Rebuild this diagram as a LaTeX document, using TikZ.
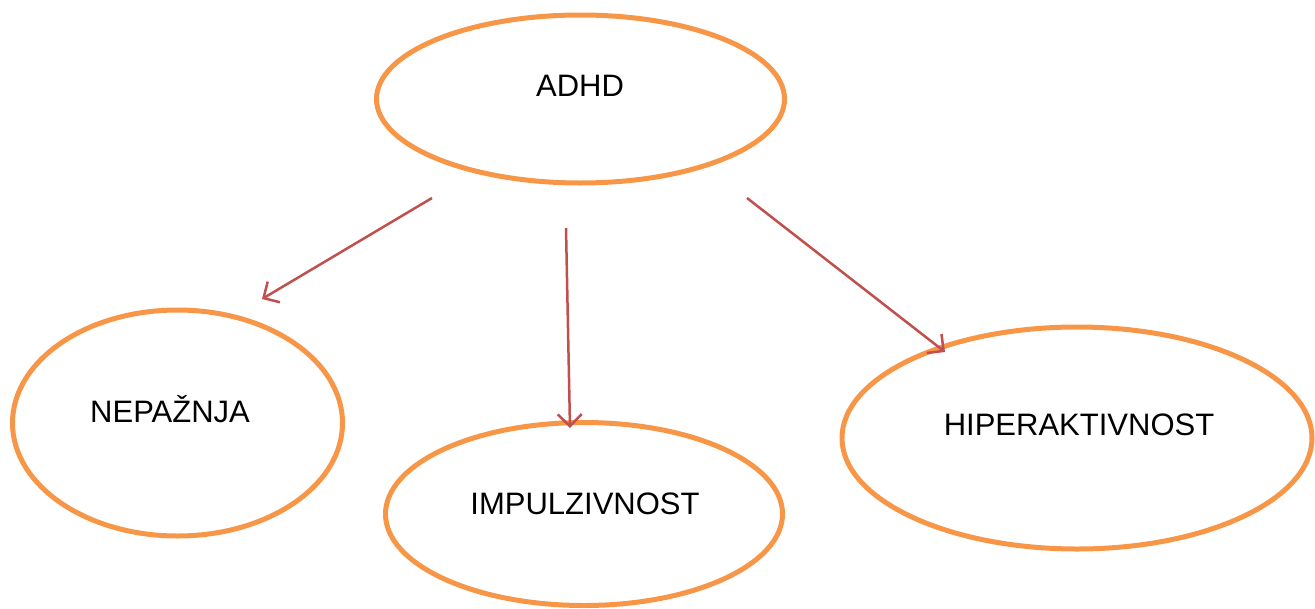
\documentclass[tikz,border=0pt]{standalone}
\usepackage{fontspec}
\setmainfont{Liberation Sans}
\usetikzlibrary{shapes.geometric,arrows.meta}
\definecolor{ellorange}{HTML}{F79646}
\definecolor{arrred}{HTML}{C0504D}
\tikzset{
  ell/.style={draw=ellorange,line width=5pt,ellipse,inner sep=0pt},
  lbl/.style={font=\fontsize{31}{37}\selectfont,anchor=base,inner sep=0pt},
  arr/.style={draw=arrred,line width=2.5pt,-{Straight Barb[length=12pt,width=24pt,line width=2.5pt]}}
}
\begin{document}
\begin{tikzpicture}[x=1pt,y=-1pt]
\useasboundingbox (0,0) rectangle (1315,608);
\node[ell,minimum width=408pt,minimum height=168pt] (adhd) at (580.5,99) {};
\node[ell,minimum width=330pt,minimum height=226pt] (nep) at (177.5,423) {};
\node[ell,minimum width=397pt,minimum height=183pt] (imp) at (584,514) {};
\node[ell,minimum width=470pt,minimum height=222pt] (hip) at (1077,438) {};
\node[lbl] (tadhd) at (580,96) {ADHD};
\node[lbl] (tnep) at (170,422) {NEPAŽNJA};
\node[lbl] (timp) at (585,514) {IMPULZIVNOST};
\node[lbl] (thip) at (1079,435) {HIPERAKTIVNOST};
\coordinate (a1) at (432,198);
\coordinate (b1) at (262,299);
\coordinate (a2) at (566,228);
\coordinate (b2) at (570,428);
\coordinate (a3) at (747,198);
\coordinate (b3) at (945,352);
\draw[arr] (a1) -- (b1);
\draw[arr] (a2) -- (b2);
\draw[arr] (a3) -- (b3);
\end{tikzpicture}
\end{document}
